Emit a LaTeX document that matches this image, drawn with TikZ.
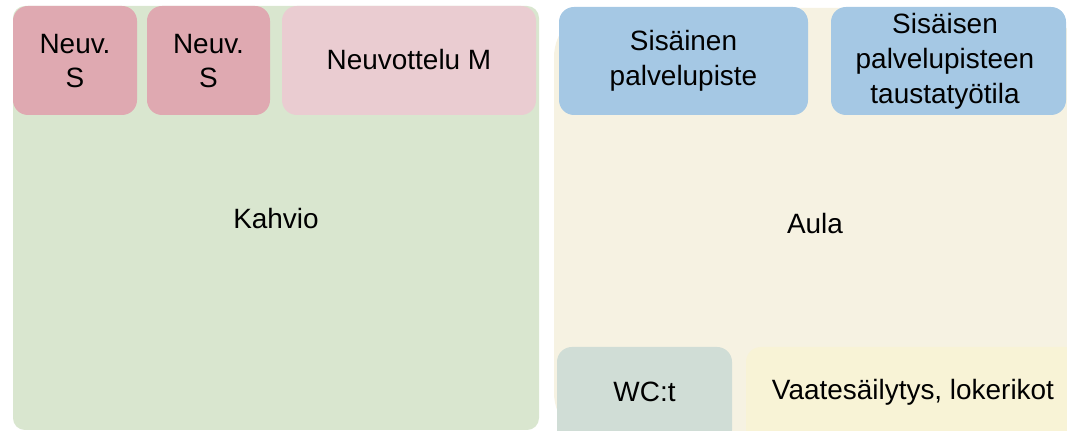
\documentclass[tikz,border=0pt]{standalone}
\usepackage{fontspec}
\setmainfont{Liberation Sans}
\usepackage{tikz}
\usetikzlibrary{positioning}
\definecolor{kahviogreen}{RGB}{217,230,207}
\definecolor{aulacream}{RGB}{246,242,226}
\definecolor{neuvpink}{RGB}{223,169,177}
\definecolor{neuvlight}{RGB}{234,204,209}
\definecolor{palvelublue}{RGB}{165,200,228}
\definecolor{wcgrey}{RGB}{208,221,214}
\definecolor{vaateyellow}{RGB}{248,243,214}

\begin{document}
\begin{tikzpicture}[x=0.02cm, y=-0.02cm,
    room/.style={rounded corners=8.5pt},
    lbl/.style={align=center, inner sep=0pt, font=\fontsize{15.9}{19.8}\selectfont}]
    \useasboundingbox (0,0) rectangle (1067,431);
    \clip (0,0) rectangle (1067,431);
    % big areas
    \fill[kahviogreen, rounded corners=6.8pt] (13,6) rectangle (539,430);
    \fill[aulacream, rounded corners=28pt] (554,8) rectangle (1076,442);
    \node[lbl] (kahvio) at (276,219) {Kahvio};
    \node[lbl] (aula) at (815,224) {Aula};
    % rooms on the left
    \fill[room, neuvpink] (13,6) rectangle (137,115);
    \fill[room, neuvpink] (147,6) rectangle (270,115);
    \fill[room, neuvlight] (282,6) rectangle (536,115);
    \node[lbl] (neuvs1) at (75,61) {Neuv.\\S};
    \node[lbl] (neuvs2) at (208.5,61) {Neuv.\\S};
    \node[lbl] (neuvm) at (409,60) {Neuvottelu M};
    % rooms on the right
    \fill[room, palvelublue] (559,7) rectangle (808,115);
    \fill[room, palvelublue] (831,7) rectangle (1066,115);
    \fill[room, wcgrey] (557,347) rectangle (732,445);
    \fill[room, vaateyellow] (746,347) rectangle (1080,445);
    \node[lbl] (palvelu) at (683.5,61) {Sisäinen\\palvelupiste};
    \node[lbl] (tausta) at (945,61) {Sisäisen\\palvelupisteen\\taustatyötila};
    \node[lbl] (wc) at (644.5,392) {WC:t};
    \node[lbl] (vaate) at (913,392) {Vaatesäilytys, lokerikot};
\end{tikzpicture}
\end{document}
